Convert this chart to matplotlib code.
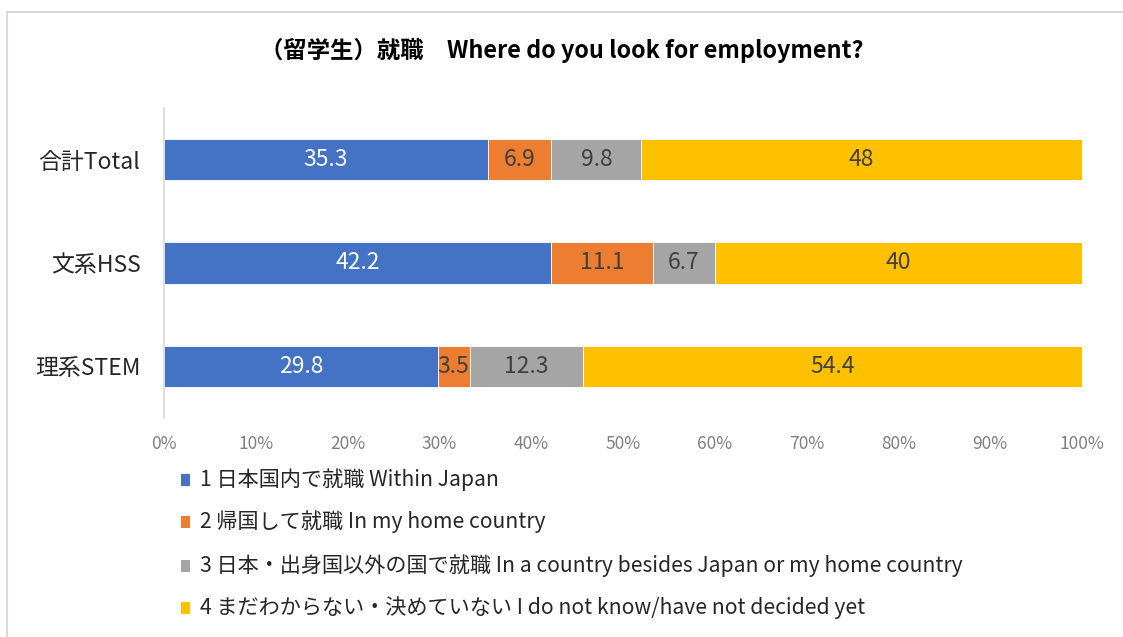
import matplotlib
matplotlib.use("Agg")
import matplotlib.pyplot as plt
from matplotlib.patches import Rectangle

plt.rcParams['font.family'] = ['Noto Sans CJK JP', 'DejaVu Sans']

categories = ['合計Total', '文系HSS', '理系STEM']
series_names = ['1 日本国内で就職 Within Japan',
                '2 帰国して就職 In my home country',
                '3 日本・出身国以外の国で就職 In a country besides Japan or my home country',
                '4 まだわからない・決めていない I do not know/have not decided yet']
values = [
    [35.3, 42.2, 29.8],
    [6.9, 11.1, 3.5],
    [9.8, 6.7, 12.3],
    [48, 40, 54.4],
]
colors = ['#4472C4', '#ED7D31', '#A5A5A5', '#FFC000']
label_colors = ['white', '#404040', '#404040', '#404040']
xticks = [0, 10, 20, 30, 40, 50, 60, 70, 80, 90, 100]
title = '（留学生）就職　Where do you look for employment?'

W, H = 1123, 637
fig = plt.figure(figsize=(W / 100, H / 100), dpi=100)

# outer frame
fig.patches.append(Rectangle((7 / W, -0.1), 1.2, (H - 12) / H + 0.1, transform=fig.transFigure,
                             fill=False, edgecolor='#D9D9D9', linewidth=1.5))

ax = fig.add_axes([164 / W, 1 - 418 / H, (1082 - 164) / W, (418 - 108) / H])
ypos = list(range(len(categories)))
left = [0.0] * len(categories)
for i, (vals, c) in enumerate(zip(values, colors)):
    bars = ax.barh(ypos, vals, left=left, height=0.4, color=c, edgecolor='white', linewidth=0.6)
    for j, (b, v) in enumerate(zip(bars, vals)):
        ax.text(left[j] + v / 2, ypos[j], f'{v:g}', ha='center', va='center',
                color=label_colors[i], fontsize=16.5)
    left = [l + v for l, v in zip(left, vals)]

ax.set_xlim(0, 100)
ax.set_ylim(2.5, -0.5)
ax.set_yticks(ypos)
ax.set_yticklabels(categories, fontsize=16.5, color='#262626')
ax.set_xticks(xticks)
ax.set_xticklabels([f'{t}%' for t in xticks], fontsize=12.5, color='#7F7F7F')
ax.tick_params(axis='both', length=0)
ax.tick_params(axis='y', pad=17)
ax.tick_params(axis='x', pad=12)
for s in ['top', 'right', 'bottom']:
    ax.spines[s].set_visible(False)
ax.spines['left'].set_color('#D9D9D9')
ax.spines['left'].set_linewidth(1.2)

fig.text(0.5, 1 - 50 / H, title, ha='center', va='center', fontsize=16.8,
         fontweight='bold', color='#000000')

# legend
leg_y = [480, 522, 566, 608]
for name, c, y in zip(series_names, colors, leg_y):
    fig.patches.append(Rectangle((181 / W, 1 - (y + 6) / H), 9 / W, 12 / H,
                                 transform=fig.transFigure, facecolor=c, edgecolor='none'))
    fig.text(200 / W, 1 - y / H, name, ha='left', va='center', fontsize=15.2, color='#262626')

fig.savefig('out.png', dpi=100)
